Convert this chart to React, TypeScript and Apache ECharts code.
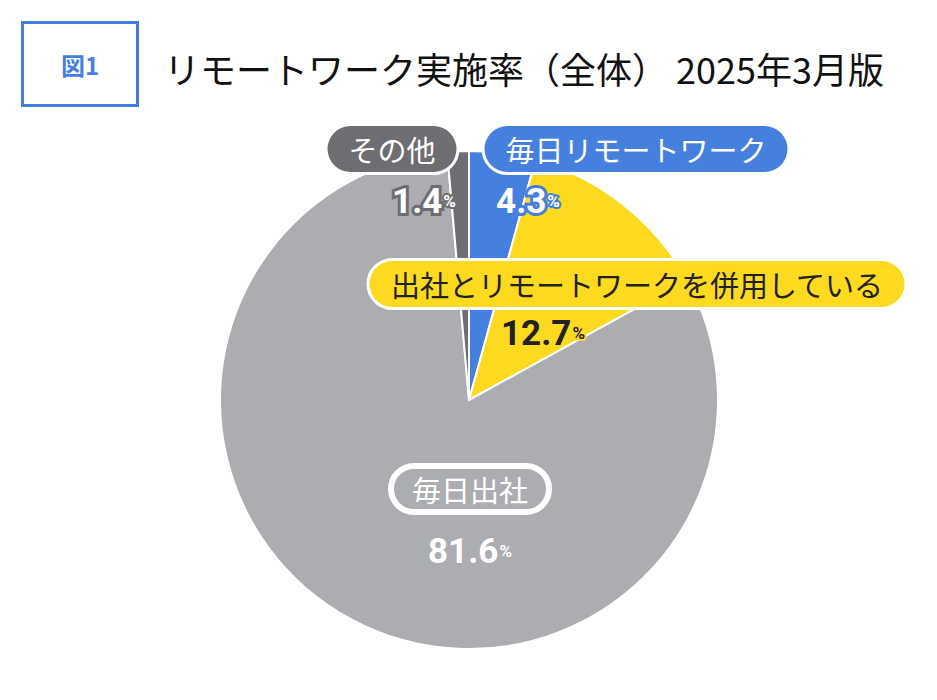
import React, { useEffect, useRef } from 'react';
import * as echarts from 'echarts';

// ---- data ----
const categories = ['毎日リモートワーク', '出社とリモートワークを併用している', '毎日出社', 'その他'];
const values = [4.3, 12.7, 81.6, 1.4];
const figureLabel = '図1';
const titleText = 'リモートワーク実施率（全体） 2025年3月版';

// ---- styles / layout ----
const sliceColors = ['#4680df', '#fdd91f', '#acadb1', '#6e6d72'];
const nameBg = ['#4680df', '#fdd91f', 'transparent', '#6e6d72'];
const nameColor = ['#ffffff', '#222222', '#ffffff', '#ffffff'];
const valueColor = ['#ffffff', '#222222', '#ffffff', '#ffffff'];
const valueOutline = ['#4680df', '#fdd91f', 'transparent', '#6e6d72'];
const valueOutlineWidth = [6, 4, 0, 6];
const namePos = [
  [636, 149],
  [637, 284],
  [470, 489],
  [392, 149],
];
const valuePos = [
  [528, 201],
  [543, 333],
  [470, 551],
  [424, 201],
];

const JP = '"Noto Sans CJK JP", "Noto Sans", sans-serif';
const NUM = 'Roboto, "Noto Sans", sans-serif';

export default function App() {
  const ref = useRef<HTMLDivElement>(null);

  useEffect(() => {
    if (!ref.current) return;
    const chart = echarts.init(ref.current, undefined, { renderer: 'svg' });

    const rich: Record<string, any> = {};
    values.forEach((_, i) => {
      rich['v' + i] = {
        fontFamily: NUM,
        fontWeight: 'bold',
        fontSize: 35,
        lineHeight: 40,
        color: valueColor[i],
        textBorderColor: valueOutline[i],
        textBorderWidth: valueOutlineWidth[i],
      };
      rich['p' + i] = {
        fontFamily: NUM,
        fontWeight: 'bold',
        fontSize: 17,
        lineHeight: 40,
        color: valueColor[i],
        textBorderColor: valueOutline[i],
        textBorderWidth: valueOutlineWidth[i] ? 4 : 0,
        padding: [0, 0, 0, 1],
      };
    });

    const option: any = {
      animation: false,
      graphic: [
        {
          type: 'rect',
          shape: { x: 22.5, y: 22.5, width: 115, height: 83 },
          style: { fill: 'transparent', stroke: '#4680df', lineWidth: 3 },
        },
        {
          type: 'text',
          x: 80,
          y: 64,
          style: {
            text: figureLabel,
            fill: '#4680df',
            font: 'bold 24px ' + JP,
            textAlign: 'center',
            textVerticalAlign: 'middle',
          },
        },
        {
          type: 'text',
          x: 164,
          y: 68,
          style: {
            text: titleText,
            fill: '#111111',
            font: '36px ' + JP,
            textAlign: 'left',
            textVerticalAlign: 'middle',
          },
        },
      ],
      series: [
        {
          type: 'pie',
          center: [469, 400],
          radius: 249,
          startAngle: 90,
          clockwise: true,
          avoidLabelOverlap: false,
          emphasis: { disabled: true },
          itemStyle: { borderColor: '#ffffff', borderWidth: 2 },
          labelLine: { show: false },
          label: {
            show: true,
            position: 'inside',
            formatter: '{b}',
            fontFamily: JP,
            fontSize: 29,
            lineHeight: 34,
            padding: [6, 21],
            borderRadius: 25,
            borderColor: '#ffffff',
            borderWidth: 3,
          },
          labelLayout: (p: any) => ({
            x: namePos[p.dataIndex][0],
            y: namePos[p.dataIndex][1],
            align: 'center',
            verticalAlign: 'middle',
          }),
          data: categories.map((name, i) => ({
            name,
            value: values[i],
            itemStyle: { color: sliceColors[i] },
            label: { backgroundColor: nameBg[i], color: nameColor[i] },
          })),
          z: 2,
        },
        {
          type: 'pie',
          center: [469, 400],
          radius: 249,
          startAngle: 90,
          clockwise: true,
          silent: true,
          avoidLabelOverlap: false,
          emphasis: { disabled: true },
          itemStyle: { color: 'rgba(0,0,0,0)', borderWidth: 0 },
          labelLine: { show: false },
          label: {
            show: true,
            position: 'inside',
            formatter: (p: any) =>
              '{v' + p.dataIndex + '|' + p.value.toFixed(1) + '}{p' + p.dataIndex + '|%}',
            rich,
          },
          labelLayout: (p: any) => ({
            x: valuePos[p.dataIndex][0],
            y: valuePos[p.dataIndex][1],
            align: 'center',
            verticalAlign: 'middle',
          }),
          data: categories.map((name, i) => ({ name, value: values[i] })),
          z: 3,
        },
      ],
    };

    chart.setOption(option);
    return () => chart.dispose();
  }, []);

  return (
    <div
      ref={ref}
      style={{ position: 'absolute', left: 0, top: 0, width: 937, height: 700, background: '#ffffff' }}
    />
  );
}
